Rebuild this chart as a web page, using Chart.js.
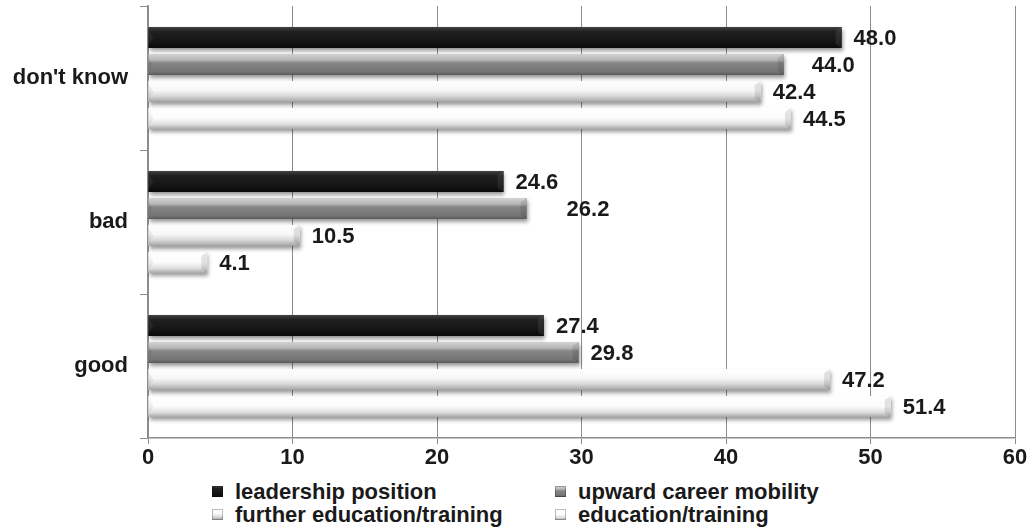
<!DOCTYPE html>
<html>
<head>
<meta charset="utf-8">
<script src="https://cdn.jsdelivr.net/npm/chart.js@4/dist/chart.umd.min.js"></script>
<style>
  body{ margin:0; background:#fff; }
  #wrap{ position:relative; width:1035px; height:530px; }
  #chart{ position:absolute; left:0; top:0; }
  #legend{
    position:absolute; left:212px; top:480px;
    display:grid; grid-template-columns:343px 300px; row-gap:0px;
    font:bold 22px "Liberation Sans", Arial, sans-serif; color:#1a1a1a;
  }
  #legend div{ display:flex; align-items:center; height:23px; white-space:nowrap; }
  #legend span{ display:inline-block; width:11px; height:11px; margin-right:12px; }
</style>
</head>
<body>
<div id="wrap">
  <canvas id="chart" width="1035" height="472"></canvas>
  <div id="legend"></div>
</div>
<script>

// DATA

const categories = ["don't know", "bad", "good"];

const seriesNames = [
    "leadership position",
    "upward career mobility",
    "further education/training",
    "education/training"
];

const leadership  = [48.0, 24.6, 27.4];
const upward      = [44.0, 26.2, 29.8];
const furtherEdu  = [42.4, 10.5, 47.2];
const education   = [44.5,  4.1, 51.4];

const xTicks = [0, 10, 20, 30, 40, 50, 60];

// STYLE

const FONT = '"Liberation Sans", Arial, sans-serif';
const INK = "#1a1a1a";
const GRID = "#8c8c8c";

const baseColors = ["#161616", "#7e7e7e", "#ececec", "#f4f4f4"];

// vertical shading of each bar (top -> bottom)
const bevels = [
    [[0, "#444444"], [0.22, "#202020"], [0.7, "#141414"], [1, "#0a0a0a"]],
    [[0, "#d4d4d4"], [0.3, "#b4b4b4"], [0.42, "#878787"], [0.85, "#747474"], [1, "#585858"]],
    [[0, "#ffffff"], [0.45, "#f7f7f7"], [0.72, "#d8d8d8"], [1, "#a2a2a2"]],
    [[0, "#ffffff"], [0.5, "#fbfbfb"], [0.78, "#dedede"], [1, "#a8a8a8"]]
];

// a couple of labels sit further out from their bar
const labelNudge = { "1-0": 16, "1-1": 28 };

// LEGEND

const legend = document.getElementById("legend");

seriesNames.forEach((name, i) => {

    const stops = bevels[i]
        .map(s => s[1] + " " + (s[0] * 100) + "%")
        .join(",");

    legend.innerHTML += `
        <div><span style="background:linear-gradient(${stops});
            box-shadow:inset 0 0 0 1px rgba(0,0,0,0.25);"></span>${name}</div>
    `;
});

// BAR LOOK

const bevelPlugin = {

    id: "bevel",

    beforeDatasetDraw(chart){
        const ctx = chart.ctx;
        ctx.save();
        ctx.shadowColor = "rgba(0,0,0,0.4)";
        ctx.shadowBlur = 4;
        ctx.shadowOffsetX = 1;
        ctx.shadowOffsetY = 3;
    },

    afterDatasetDraw(chart, args){

        const ctx = chart.ctx;
        ctx.restore();

        const di = args.index;

        args.meta.data.forEach(bar => {

            const p = bar.getProps(["x", "y", "base", "height"], true);
            const left = Math.min(p.x, p.base);
            const right = Math.max(p.x, p.base);
            const top = p.y - p.height / 2;
            const h = p.height;

            const g = ctx.createLinearGradient(0, top, 0, top + h);
            bevels[di].forEach(s => g.addColorStop(s[0], s[1]));

            ctx.save();
            ctx.fillStyle = g;
            ctx.fillRect(left, top, right - left, h);

            // end facets
            ctx.fillStyle = di === 0 ? "rgba(255,255,255,0.08)" : "rgba(0,0,0,0.1)";
            ctx.beginPath();
            ctx.moveTo(right, top);
            ctx.lineTo(right - 6, top + 4);
            ctx.lineTo(right - 6, top + h - 4);
            ctx.lineTo(right, top + h);
            ctx.closePath();
            ctx.fill();

            ctx.fillStyle = di === 0 ? "rgba(255,255,255,0.06)" : "rgba(0,0,0,0.06)";
            ctx.beginPath();
            ctx.moveTo(left, top + 3);
            ctx.lineTo(left + 5, p.y);
            ctx.lineTo(left, top + h - 3);
            ctx.closePath();
            ctx.fill();

            ctx.restore();
        });
    },

    afterDatasetsDraw(chart){

        const ctx = chart.ctx;
        ctx.save();
        ctx.font = "bold 22px " + FONT;
        ctx.fillStyle = INK;
        ctx.textAlign = "left";
        ctx.textBaseline = "middle";

        chart.data.datasets.forEach((ds, di) => {
            chart.getDatasetMeta(di).data.forEach((bar, i) => {
                const p = bar.getProps(["x", "y"], true);
                const extra = labelNudge[di + "-" + i] || 0;
                ctx.fillText(ds.data[i].toFixed(1), p.x + 12 + extra, p.y + 1);
            });
        });

        ctx.restore();
    }
};

// CHART

Chart.defaults.font.family = FONT;
Chart.defaults.color = INK;

const seriesData = [leadership, upward, furtherEdu, education];

new Chart(document.getElementById("chart"), {

    type: "bar",

    data: {
        labels: categories,
        datasets: seriesData.map((d, i) => ({
            label: seriesNames[i],
            data: d,
            backgroundColor: baseColors[i],
            borderWidth: 0,
            categoryPercentage: 0.75,
            barPercentage: 0.78
        }))
    },

    options: {
        indexAxis: "y",
        responsive: false,
        animation: false,
        layout: {
            padding: { top: 6, right: 20, left: 0, bottom: 0 }
        },
        plugins: {
            legend: { display: false },
            tooltip: { enabled: false }
        },
        scales: {
            x: {
                min: 0,
                max: 60,
                afterFit: s => { s.height = 34; },
                afterBuildTicks: s => {
                    s.ticks = xTicks.map(v => ({ value: v }));
                },
                grid: {
                    color: GRID,
                    lineWidth: 1,
                    tickLength: 6
                },
                border: { color: GRID, width: 1.5 },
                ticks: {
                    padding: 1,
                    font: { size: 22, weight: "bold" },
                    color: INK
                }
            },
            y: {
                afterFit: s => {
                    s.width = 148;
                    s.paddingTop = 0;
                    s.paddingBottom = 0;
                },
                grid: {
                    offset: true,
                    drawOnChartArea: false,
                    color: GRID,
                    tickLength: 8
                },
                border: { color: GRID, width: 1.5 },
                ticks: {
                    padding: 12,
                    font: { size: 22, weight: "bold" },
                    color: INK
                }
            }
        }
    },

    plugins: [bevelPlugin]
});

</script>
</body>
</html>
